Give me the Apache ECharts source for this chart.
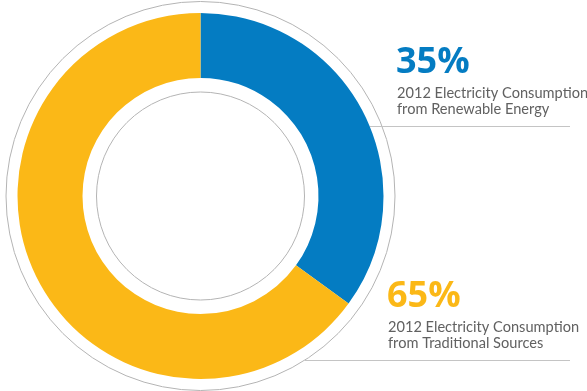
<!DOCTYPE html>
<html>
<head>
<meta charset="utf-8">
<script src="https://cdn.jsdelivr.net/npm/echarts@6/dist/echarts.min.js"></script>
<style>
  html, body { margin: 0; padding: 0; background: #fff; }
  #chart { width: 587px; height: 391px; }
</style>
</head>
<body>
<div id="chart"></div>
<script>
// Share of 2012 electricity consumption by source
const categories = ['2012 Electricity Consumption\nfrom Renewable Energy', '2012 Electricity Consumption\nfrom Traditional Sources'];
const shares = [35, 65];
const colors = ['#047cc2', '#fbb817'];

const cx = 200.5, cy = 196;
const chart = echarts.init(document.getElementById('chart'), null, { renderer: 'canvas' });

const pct = v => v + '%';

chart.setOption({
  animation: false,
  series: [{
    type: 'pie',
    center: [cx, cy],
    radius: [118, 183],
    startAngle: 90,
    clockwise: true,
    silent: true,
    label: { show: false },
    labelLine: { show: false },
    data: categories.map((name, i) => ({ name, value: shares[i], itemStyle: { color: colors[i] } }))
  }],
  graphic: [
    // thin outline rings around and inside the donut
    { type: 'circle', shape: { cx, cy, r: 194.5 }, style: { fill: 'none', stroke: '#b4b4b4', lineWidth: 1 }, silent: true },
    { type: 'circle', shape: { cx, cy, r: 104 }, style: { fill: 'none', stroke: '#b4b4b4', lineWidth: 1 }, silent: true },
    // renewable callout
    { type: 'text', left: 396, top: 45, style: { text: pct(shares[0]), font: 'bold 36px "Open Sans"', fill: colors[0] } },
    { type: 'text', left: 397, top: 84.5, style: { text: categories[0], font: '14.6px Lato', fill: '#616161', lineHeight: 16.6 } },
    { type: 'line', shape: { x1: 370, y1: 126.5, x2: 570, y2: 126.5 }, style: { stroke: '#c4c4c4', lineWidth: 1 }, silent: true },
    // traditional callout
    { type: 'text', left: 387, top: 279, style: { text: pct(shares[1]), font: 'bold 36px "Open Sans"', fill: colors[1] } },
    { type: 'text', left: 388, top: 318.5, style: { text: categories[1], font: '14.6px Lato', fill: '#616161', lineHeight: 16.6 } },
    { type: 'line', shape: { x1: 305, y1: 360.5, x2: 570, y2: 360.5 }, style: { stroke: '#c4c4c4', lineWidth: 1 }, silent: true }
  ]
});
</script>
</body>
</html>
